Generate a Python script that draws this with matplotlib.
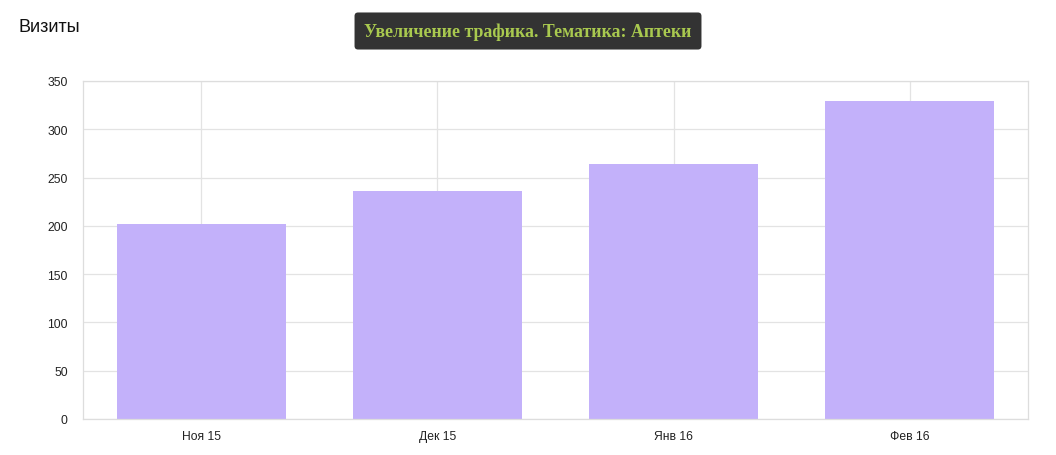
import matplotlib.pyplot as plt
import numpy as np

months = ['Ноя 15', 'Дек 15', 'Янв 16', 'Фев 16']
visits = [202, 236, 264, 329]
yticks = [0, 50, 100, 150, 200, 250, 300, 350]

plt.rcParams['font.family'] = ['Liberation Sans', 'DejaVu Sans']

fig = plt.figure(figsize=(10.56, 4.56), dpi=100)
ax = fig.add_axes([83 / 1056, 36 / 456, 945 / 1056, 338 / 456])

x = np.arange(len(months))
ax.bar(x, visits, width=0.715, color='#c3b1fa', zorder=2)

ax.set_xlim(-0.5, len(months) - 0.5)
ax.set_ylim(0, 350)
ax.set_xticks(x)
ax.set_xticklabels(months)
ax.set_yticks(yticks)
ax.grid(True, color='#e3e3e3', linewidth=0.9, zorder=0)
ax.tick_params(length=0, labelsize=8.7, colors='#222222', pad=8)
ax.tick_params(axis='y', pad=11)
for s in ax.spines.values():
    s.set_color('#dddddd')
    s.set_linewidth(0.9)

fig.text(18 / 1056, 1 - 27 / 456, 'Визиты', fontsize=13, color='#111111',
         va='center', ha='left')
fig.text(528 / 1056, 1 - 32 / 456, 'Увеличение трафика. Тематика: Аптеки',
         fontsize=12.8, fontweight='bold', family=['Liberation Serif', 'DejaVu Serif'],
         color='#a9c94f', ha='center', va='center',
         bbox=dict(boxstyle='round,pad=0.55,rounding_size=0.2',
                   facecolor='#333333', edgecolor='none'))

fig.savefig('out.png', dpi=100)
